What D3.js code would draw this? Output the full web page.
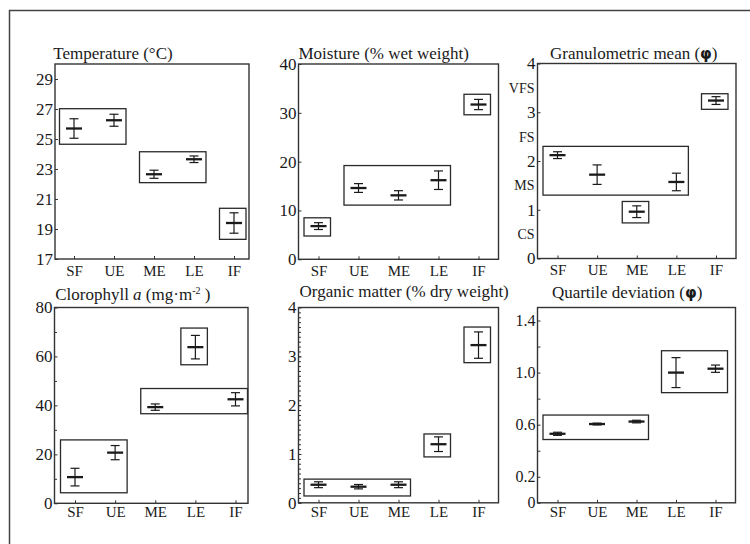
<!DOCTYPE html>
<html>
<head>
<meta charset="utf-8">
<script src="https://cdn.jsdelivr.net/npm/d3@7"></script>
<style>
  body { margin: 0; background: #fff; }
</style>
</head>
<body>
<svg></svg>
<script>
const categories = ["SF", "UE", "ME", "LE", "IF"];

// groups are [first category, last category, low, high]
const tempMean = [25.7, 26.25, 22.65, 23.65, 19.4];
const tempErr = [0.65, 0.4, 0.27, 0.22, 0.68];
const tempGroups = [[0, 1, 24.65, 27.02], [2, 3, 22.09, 24.15], [4, 4, 18.31, 20.38]];
const tempTicks = [17, 19, 21, 23, 25, 27, 29];

const moistMean = [6.8, 14.6, 13.1, 16.2, 31.7];
const moistErr = [0.7, 0.9, 0.95, 1.9, 1.05];
const moistGroups = [[0, 0, 4.77, 8.5], [1, 3, 11.1, 19.2], [4, 4, 29.6, 33.8]];
const moistTicks = [0, 10, 20, 30, 40];

const grainMean = [2.12, 1.72, 0.96, 1.57, 3.24];
const grainErr = [0.07, 0.2, 0.12, 0.18, 0.08];
const grainGroups = [[0, 3, 1.3, 2.3], [2, 2, 0.73, 1.17], [4, 4, 3.06, 3.38]];
const grainTicks = [0, 1, 2, 3, 4];
const grainClassPos = [0.5, 1.5, 2.5, 3.5];
const grainClassLabels = ["CS", "MS", "FS", "VFS"];

const chlMean = [10.7, 20.7, 39.3, 63.8, 42.5];
const chlErr = [3.6, 2.9, 1.3, 4.8, 2.7];
const chlGroups = [[0, 1, 4.3, 25.9], [2, 4, 36.6, 46.9], [3, 3, 56.6, 71.6]];
const chlTicks = [0, 20, 40, 60, 80];
const chlMinor = [10, 30, 50, 70];

const orgMean = [0.37, 0.33, 0.37, 1.2, 3.23];
const orgErr = [0.06, 0.045, 0.06, 0.15, 0.27];
const orgGroups = [[0, 2, 0.14, 0.485], [3, 3, 0.94, 1.41], [4, 4, 2.87, 3.6]];
const orgTicks = [0, 1, 2, 3, 4];
const orgMinor = d3.range(0, 40).map(d => d / 10);

const qdMean = [0.53, 0.605, 0.624, 1.0, 1.03];
const qdErr = [0.012, 0.007, 0.01, 0.115, 0.028];
const qdGroups = [[0, 2, 0.486, 0.674], [3, 4, 0.846, 1.168]];
const qdTicks = [0, 0.2, 0.4, 0.6, 0.8, 1.0, 1.2, 1.4];
const qdLabelled = [0, 0.2, 0.6, 1.0, 1.4];

const panels = [
  { title: [["Temperature (°C)"]], domain: [17, 30], mean: tempMean, err: tempErr, groups: tempGroups, ticks: tempTicks, fmt: d3.format("d") },
  { title: [["Moisture (% wet weight)"]], domain: [0, 40], mean: moistMean, err: moistErr, groups: moistGroups, ticks: moistTicks, fmt: d3.format("d") },
  { title: [["Granulometric mean ("], ["\u03C6", "phi"], [")"]], domain: [0, 4], mean: grainMean, err: grainErr, groups: grainGroups, ticks: grainTicks, fmt: d3.format("d"), classes: true },
  { title: [["Clorophyll "], ["a", "italic"], [" (mg·m"], ["-2", "sup"], [" )"]], domain: [0, 80], mean: chlMean, err: chlErr, groups: chlGroups, ticks: chlTicks, minor: chlMinor, fmt: d3.format("d") },
  { title: [["Organic matter (% dry weight)"]], domain: [0, 4], mean: orgMean, err: orgErr, groups: orgGroups, ticks: orgTicks, minor: orgMinor, fmt: d3.format("d") },
  { title: [["Quartile deviation ("], ["\u03C6", "phi"], [")"]], domain: [0, 1.5], mean: qdMean, err: qdErr, groups: qdGroups, ticks: qdTicks,
    fmt: d => qdLabelled.includes(d) ? (d === 0 ? "0" : d3.format(".1f")(d)) : "", small: true }
];

// where each panel sits on the page
const layout = [
  { x: 55, y: 64, w: 194, h: 195, padL: 19, padR: 15, tdx: -1.7, tdy: -5, lp: 6 },
  { x: 298.5, y: 64, w: 200, h: 195.3, padL: 20, padR: 20, tdx: 0, tdy: -5.5, lp: 6 },
  { x: 537.5, y: 63.5, w: 198.5, h: 195, padL: 20, padR: 20, tdx: 12.5, tdy: -4.5, lp: 6 },
  { x: 54.5, y: 307.5, w: 193.5, h: 195.8, padL: 20.5, padR: 12.5, tdx: 0.7, tdy: -7.5, lp: 3.5 },
  { x: 298.5, y: 307.5, w: 200, h: 195.3, padL: 20, padR: 20, tdx: 1, tdy: -10.5, lp: 3.5 },
  { x: 537.5, y: 307.5, w: 198, h: 195.3, padL: 20, padR: 20, tdx: 14.4, tdy: -9.5, lp: 3.5 }
];

const serif = "'Liberation Serif', 'Times New Roman', serif";
const ink = "#1a1a1a";
const svg = d3.select("svg").attr("width", 750).attr("height", 544)
  .style("display", "block").style("font-family", serif);

svg.append("rect")
  .attr("x", 9.5).attr("y", 10.5)
  .attr("width", 800).attr("height", 600)
  .attr("fill", "none").attr("stroke", "#444").attr("stroke-width", 1.5);

panels.forEach((p, i) => drawPanel(p, layout[i]));

function styleAxis(sel, size) {
  sel.select(".domain").remove();
  sel.selectAll("line").attr("stroke", "#333");
  sel.selectAll("text").attr("fill", ink)
    .style("font-size", size).style("font-family", serif);
}

function drawPanel(p, L) {
  const g = svg.append("g").attr("transform", `translate(${L.x},${L.y})`);
  const x = d3.scalePoint().domain(categories).range([L.padL, L.w - L.padR]);
  const y = d3.scaleLinear().domain(p.domain).range([L.h, 0]);

  // grouping boxes
  g.selectAll(".grp").data(p.groups).enter().append("rect")
    .attr("class", "grp")
    .attr("x", d => x(categories[d[0]]) - 14.5)
    .attr("width", d => x(categories[d[1]]) - x(categories[d[0]]) + 26.5)
    .attr("y", d => y(d[3]))
    .attr("height", d => y(d[2]) - y(d[3]))
    .attr("fill", "none").attr("stroke", "#2a2a2a").attr("stroke-width", 1.3);

  // error bars
  const bars = g.selectAll(".bar").data(categories).enter().append("g")
    .attr("class", "bar")
    .attr("transform", d => `translate(${x(d)},0)`);
  bars.append("line")
    .attr("y1", (d, i) => y(p.mean[i] - p.err[i]))
    .attr("y2", (d, i) => y(p.mean[i] + p.err[i]))
    .attr("stroke", ink).attr("stroke-width", 1.2);
  [-1, 1].forEach(s => {
    bars.append("line")
      .attr("x1", -4.5).attr("x2", 4.5)
      .attr("y1", (d, i) => y(p.mean[i] + s * p.err[i]))
      .attr("y2", (d, i) => y(p.mean[i] + s * p.err[i]))
      .attr("stroke", ink).attr("stroke-width", 1.2);
  });
  bars.append("line")
    .attr("x1", -8).attr("x2", 8)
    .attr("y1", (d, i) => y(p.mean[i]))
    .attr("y2", (d, i) => y(p.mean[i]))
    .attr("stroke", ink).attr("stroke-width", 2.3);

  // axes
  const ya = g.append("g").call(d3.axisLeft(y).tickValues(p.ticks).tickSize(-3).tickPadding(2).tickFormat(p.fmt));
  styleAxis(ya, p.small ? "16px" : "17px");
  if (p.minor) {
    const ym = g.append("g").call(d3.axisLeft(y).tickValues(p.minor).tickSize(-2.5).tickFormat(""));
    styleAxis(ym, "10px");
  }
  if (p.classes) {
    g.selectAll(".cls").data(grainClassPos).enter().append("text")
      .attr("class", "cls")
      .attr("x", -3).attr("y", d => y(d)).attr("dy", "0.35em")
      .attr("text-anchor", "end").attr("fill", ink)
      .style("font-size", "14px").style("font-family", serif)
      .text((d, i) => grainClassLabels[i]);
  }
  const xa = g.append("g").attr("transform", `translate(0,${L.h})`)
    .call(d3.axisBottom(x).tickSize(-3).tickPadding(L.lp));
  styleAxis(xa, "15px");

  // frame
  g.append("rect").attr("width", L.w).attr("height", L.h)
    .attr("fill", "none").attr("stroke", "#333").attr("stroke-width", 1.4);

  // title
  const t = g.append("text").attr("x", L.tdx).attr("y", L.tdy)
    .attr("fill", ink).style("font-size", "17px").style("font-family", serif);
  let prev = null;
  p.title.forEach(([txt, kind]) => {
    const s = t.append("tspan").text(txt);
    if (kind === "italic") s.style("font-style", "italic");
    if (kind === "phi") s.style("font-family", "'DejaVu Sans', sans-serif").style("font-weight", "bold").style("font-size", "15px");
    if (kind === "sup") s.style("font-size", "10px").attr("dy", -6);
    if (prev === "sup") s.attr("dy", 6);
    prev = kind;
  });
}
</script>
</body>
</html>
